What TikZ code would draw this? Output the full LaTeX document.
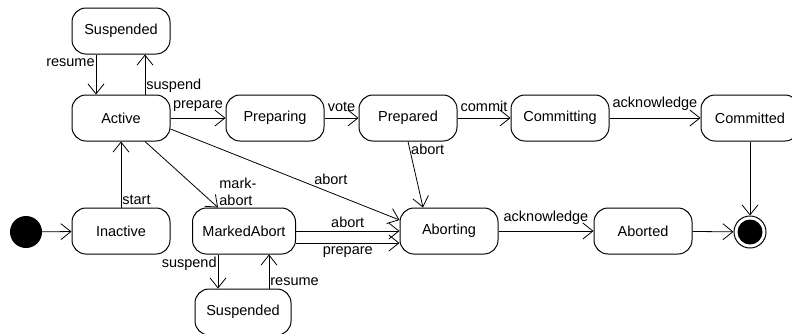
\documentclass[tikz,border=0pt]{standalone}
\usepackage{fontspec}
\setmainfont{Liberation Sans}
\usetikzlibrary{arrows.meta,positioning}

\begin{document}
\begin{tikzpicture}[x=1pt,y=-1pt,
  state/.style={draw,rounded corners=14pt,minimum width=98pt,minimum height=46pt,inner sep=0pt,line width=1pt,font=\fontsize{14.5}{17}\selectfont},
  lbl/.style={inner sep=1pt,font=\fontsize{14.5}{17}\selectfont},
  tr/.style={->,line width=0.8pt},
  >={Straight Barb[length=10pt,width=16pt]}]
\useasboundingbox (0,0) rectangle (792,333);
% states
\node (susa) [state] at (121,31) {Suspended};
\node (act) [state] at (121,118) {Active};
\node (prepg) [state] at (275,118) {Preparing};
\node (prepd) [state] at (408,118) {Prepared};
\node (comg) [state] at (560,118) {Committing};
\node (comd) [state] at (750,118) {Committed};
\node (init) [circle,fill,minimum size=32pt,inner sep=0pt] at (26,232) {};
\node (inact) [state] at (121,231) {Inactive};
\node (mabort) [state,minimum width=103pt] at (244,231) {MarkedAbort};
\node (susb) [state,minimum width=96pt] at (243,312) {Suspended};
\node (abtg) [state] at (449,231) {Aborting};
\node (abtd) [state] at (643,231) {Aborted};
\node (fin) [circle,draw,line width=1pt,minimum size=32pt,inner sep=0pt] at (750,232) {};
\fill (fin) circle (12.5);
% transitions
\draw[tr] ([xshift=-25pt]susa.south) -- ([xshift=-25pt]act.north) node[lbl,pos=0.2,left] {resume};
\draw[tr] ([xshift=24pt]act.north) -- ([xshift=24pt]susa.south) node[lbl,pos=0.22,right] {suspend};
\draw[tr] (act) -- (prepg) node[lbl,midway,above=5pt] {prepare};
\draw[tr] (prepg) -- (prepd) node[lbl,midway,above=5pt] {vote};
\draw[tr] (prepd) -- (comg) node[lbl,midway,above=5pt] {commit};
\draw[tr] (comg) -- (comd) node[lbl,midway,above=6pt] {acknowledge};
\draw[tr] (comd) -- (fin);
\draw[tr] (prepd.south) -- ([xshift=-26pt]abtg.north) node[lbl,pos=0.12,right] {abort};
\draw[tr] ([yshift=-11pt]act.east) -- ([yshift=11pt]abtg.west) node[lbl,pos=0.7,above=7pt] {abort};
\draw[tr] ([xshift=24pt]act.south) -- ([xshift=-26pt]mabort.north) node[lbl,pos=1,above right,align=left] {mark-\\abort};
\draw[tr] (inact) -- (act) node[lbl,pos=0.12,right] {start};
\draw[tr] (init) -- (inact);
\draw[tr] (mabort) -- (abtg) node[lbl,midway,above=2pt] {abort};
\draw[tr] ([yshift=-12pt]mabort.east) -- ([yshift=-12pt]abtg.west) node[lbl,midway,below=2pt] {prepare};
\draw[tr] ([xshift=-26pt]mabort.south) -- ([xshift=-25pt]susb.north) node[lbl,pos=0.26,left] {suspend};
\draw[tr] ([xshift=26pt]susb.north) -- ([xshift=25pt]mabort.south) node[lbl,pos=0.2,right] {resume};
\draw[tr] (abtg) -- (abtd) node[lbl,midway,above=5pt] {acknowledge};
\draw[tr] (abtd) -- (fin);
\end{tikzpicture}
\end{document}
